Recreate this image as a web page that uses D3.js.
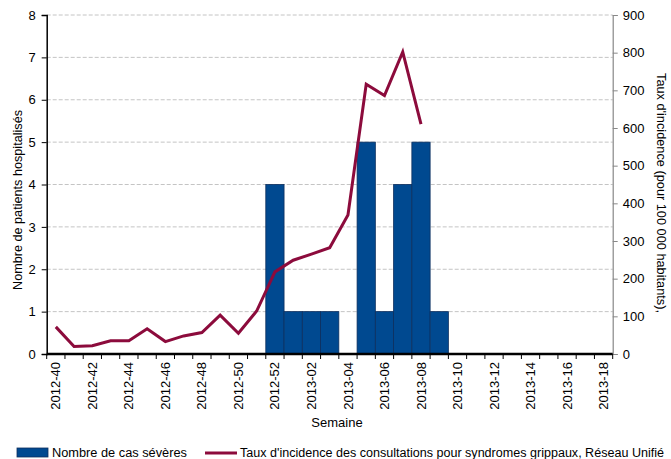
<!DOCTYPE html>
<html>
<head>
<meta charset="utf-8">
<script src="https://cdn.jsdelivr.net/npm/d3@7"></script>
<style>
  html, body { margin: 0; padding: 0; background: #fff; }
  svg { display: block; font-family: "Liberation Sans", Arial, sans-serif; }
</style>
</head>
<body>
<svg id="chart" width="671" height="459"></svg>
<script>
const weeks = [
  "2012-40","2012-41","2012-42","2012-43","2012-44","2012-45","2012-46","2012-47","2012-48","2012-49",
  "2012-50","2012-51","2012-52","2013-01","2013-02","2013-03","2013-04","2013-05","2013-06","2013-07",
  "2013-08","2013-09","2013-10","2013-11","2013-12","2013-13","2013-14","2013-15","2013-16","2013-17","2013-18"
];
const severeCases = [0,0,0,0,0,0,0,0,0,0,0,0,4,1,1,1,0,5,1,4,5,1,0,0,0,0,0,0,0,0,0];
const incidenceRate = [72,20,22,35,35,67,33,48,57,103,55,114,218,249,265,282,369,716,686,802,610];
const leftTicks = [0,1,2,3,4,5,6,7,8];
const rightTicks = [0,100,200,300,400,500,600,700,800,900];
const labelWeeks = weeks.filter((d, i) => i % 2 === 0);
const legendLabels = ["Nombre de cas sévères", "Taux d'incidence des consultations pour syndromes grippaux, Réseau Unifié"];

const barColor = "#004990", barStroke = "#0d2f5e", lineColor = "#8c0b3c";
const L = 46.7, R = 612.7, T = 15, B = 354;

const svg = d3.select("#chart");
svg.append("rect").attr("width", 671).attr("height", 459).attr("fill", "#fff");

const x = d3.scaleBand().domain(weeks).range([L, R]).padding(0);
const yL = d3.scaleLinear().domain([0, 8]).range([B, T]);
const yR = d3.scaleLinear().domain([0, 900]).range([B, T]);

// gridlines
svg.append("g").selectAll("line").data(leftTicks.filter(d => d > 0)).join("line")
  .attr("x1", L).attr("x2", R)
  .attr("y1", d => yL(d)).attr("y2", d => yL(d))
  .attr("stroke", "#c4c4c4").attr("stroke-width", 1).attr("stroke-dasharray", "4,2");

// bars
svg.append("g").selectAll("rect").data(weeks.map((w, i) => ({w, v: severeCases[i]})).filter(d => d.v > 0)).join("rect")
  .attr("x", d => x(d.w)).attr("width", x.bandwidth())
  .attr("y", d => yL(d.v)).attr("height", d => B - yL(d.v))
  .attr("fill", barColor).attr("stroke", barStroke).attr("stroke-width", 0.8);

// line
const line = d3.line().x((d, i) => x(weeks[i]) + x.bandwidth() / 2).y(d => yR(d));
svg.append("path").datum(incidenceRate).attr("d", line)
  .attr("fill", "none").attr("stroke", lineColor).attr("stroke-width", 3).attr("stroke-linejoin", "miter");

// left axis
const gL = svg.append("g").attr("transform", `translate(${L},0)`)
  .call(d3.axisLeft(yL).tickValues(leftTicks).tickSize(5).tickPadding(6).tickFormat(d3.format("d")));
gL.select(".domain").attr("stroke", "#000").attr("stroke-width", 1.5);
gL.selectAll(".tick line").attr("stroke", "#000");
gL.selectAll("text").attr("font-size", 13).attr("fill", "#000").attr("font-family", "Liberation Sans, Arial, sans-serif");

// right axis
const gR = svg.append("g").attr("transform", `translate(${R},0)`)
  .call(d3.axisRight(yR).tickValues(rightTicks).tickSize(5).tickPadding(5).tickFormat(d3.format("d")));
gR.select(".domain").attr("stroke", "#888").attr("stroke-width", 1.2);
gR.selectAll(".tick line").attr("stroke", "#888");
gR.selectAll("text").attr("font-size", 13).attr("fill", "#000").attr("font-family", "Liberation Sans, Arial, sans-serif");

// bottom axis: boundary ticks
const bounds = weeks.map(w => x(w)).concat([R]);
svg.append("g").selectAll("line").data(bounds).join("line")
  .attr("x1", d => d).attr("x2", d => d).attr("y1", B).attr("y2", B + 5)
  .attr("stroke", "#000").attr("stroke-width", 1);
const gB = svg.append("g").attr("transform", `translate(0,${B})`)
  .call(d3.axisBottom(x).tickValues(labelWeeks).tickSize(0).tickPadding(0));
gB.select(".domain").remove();
gB.selectAll("text").attr("font-size", 13).attr("fill", "#000").attr("font-family", "Liberation Sans, Arial, sans-serif")
  .attr("transform", "rotate(-90)").attr("text-anchor", "end").attr("dy", "0.35em").attr("dx", "-8").attr("y", 0).attr("x", 0);
svg.append("line").attr("x1", L).attr("x2", R).attr("y1", B).attr("y2", B).attr("stroke", "#000").attr("stroke-width", 2.5);

// axis titles
svg.append("text").attr("transform", "translate(22,200) rotate(-90)").attr("text-anchor", "middle")
  .attr("font-size", 12.5).attr("fill", "#000").attr("textLength", 180).attr("lengthAdjust", "spacingAndGlyphs")
  .text("Nombre de patients hospitalisés");
svg.append("text").attr("transform", "translate(657,193) rotate(90)").attr("text-anchor", "middle")
  .attr("font-size", 13).attr("fill", "#000").attr("textLength", 240).attr("lengthAdjust", "spacingAndGlyphs")
  .text("Taux d'incidence (pour 100 000 habitants),");
svg.append("text").attr("x", 337).attr("y", 427).attr("text-anchor", "middle")
  .attr("font-size", 13).attr("fill", "#000").text("Semaine");

// legend
const lg = svg.append("g");
lg.append("rect").attr("x", 17).attr("y", 448).attr("width", 31).attr("height", 9).attr("fill", barColor).attr("stroke", barStroke).attr("stroke-width", 0.8);
lg.append("text").attr("x", 52).attr("y", 457).attr("font-size", 12.5).attr("fill", "#000")
  .attr("textLength", 135).attr("lengthAdjust", "spacingAndGlyphs").text(legendLabels[0]);
lg.append("line").attr("x1", 205).attr("x2", 237).attr("y1", 453).attr("y2", 453).attr("stroke", lineColor).attr("stroke-width", 3);
lg.append("text").attr("x", 240).attr("y", 457).attr("font-size", 12.5).attr("fill", "#000")
  .attr("textLength", 424).attr("lengthAdjust", "spacingAndGlyphs").text(legendLabels[1]);
</script>
</body>
</html>
